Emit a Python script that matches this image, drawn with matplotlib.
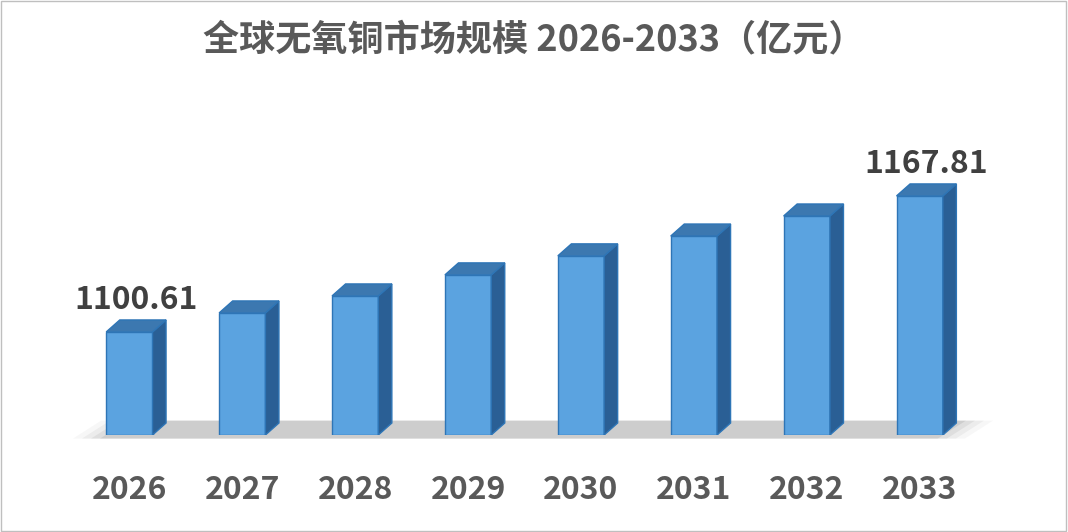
import matplotlib.pyplot as plt
from matplotlib.patches import Polygon
import matplotlib.transforms as mtransforms

plt.rcParams['font.family'] = ['Noto Sans CJK SC', 'DejaVu Sans']

years = ['2026', '2027', '2028', '2029', '2030', '2031', '2032', '2033']
values = [1100.61, 1110.0, 1118.4, 1128.8, 1138.2, 1148.0, 1157.9, 1167.81]
shown = {0: '1100.61', 7: '1167.81'}

fig = plt.figure(figsize=(10.68, 5.32), dpi=100)
ax = fig.add_axes([65 / 1068, 1 - 435 / 532, 945 / 1068, 285 / 532])
ymin, ymax = 1049.7, 1190.5
ax.set_xlim(-0.57, 7.8)
ax.set_ylim(ymin, ymax)
ax.axis('off')

w = 0.41
dx = 0.12
dy = (ymax - ymin) / 285 * 12

# floor shadow
for k, a in enumerate([0.04, 0.06, 0.08, 0.1]):
    s = 0.1 + k * 0.08
    ax.add_patch(Polygon([(-0.6 + s, ymin - dy * 0.3), (7.5 - s, ymin - dy * 0.3),
                          (7.75 - s, ymin + dy * 1.2), (-0.35 + s, ymin + dy * 1.2)],
                         closed=True, color='#404040', alpha=a, lw=0, clip_on=False))

for i, v in enumerate(values):
    x0, x1 = i - w / 2, i + w / 2
    ax.bar(i, v - ymin, width=w, bottom=ymin, color='#5ba3e0', edgecolor='#2e75b6', lw=1, zorder=3)
    ax.add_patch(Polygon([(x1, ymin), (x1 + dx, ymin + dy), (x1 + dx, v + dy), (x1, v)],
                         closed=True, facecolor='#2a5f95', edgecolor='#2e75b6', lw=1, zorder=3))
    ax.add_patch(Polygon([(x0, v), (x1, v), (x1 + dx, v + dy), (x0 + dx, v + dy)],
                         closed=True, facecolor='#3c78b0', edgecolor='#2e75b6', lw=1, zorder=3))
    if i in shown:
        ax.text(i + dx / 2, v + dy + 2, shown[i], ha='center', va='bottom',
                fontsize=23, fontweight='bold', color='#404040')

trans = mtransforms.blended_transform_factory(ax.transData, fig.transFigure)
for i, y in enumerate(years):
    ax.text(i, 1 - 490 / 532, y, transform=trans, ha='center', va='center',
            fontsize=23, fontweight='bold', color='#595959')

fig.text(0.5, 1 - 40 / 532, '全球无氧铜市场规模 2026-2033（亿元）', ha='center', va='center',
         fontsize=26, fontweight='bold', color='#595959')
fig.add_artist(plt.Rectangle((0.001, 0.002), 0.997, 0.996, transform=fig.transFigure,
                             fill=False, edgecolor='#bfbfbf', lw=1))

fig.savefig('out.png', dpi=100)
